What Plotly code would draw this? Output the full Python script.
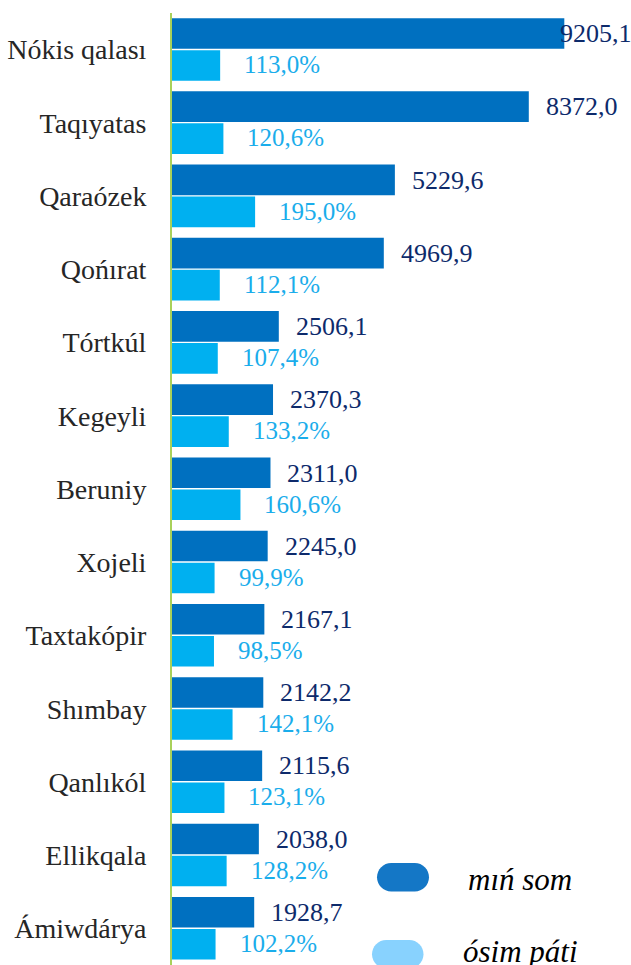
import plotly.graph_objects as go

categories = ["Nókis qalası", "Taqıyatas", "Qaraózek", "Qońırat", "Tórtkúl", "Kegeyli",
              "Beruniy", "Xojeli", "Taxtakópir", "Shımbay", "Qanlıkól", "Ellikqala", "Ámiwdárya"]
min_som = [9205.1, 8372.0, 5229.6, 4969.9, 2506.1, 2370.3, 2311.0, 2245.0, 2167.1, 2142.2, 2115.6, 2038.0, 1928.7]
osim_pati = [113.0, 120.6, 195.0, 112.1, 107.4, 133.2, 160.6, 99.9, 98.5, 142.1, 123.1, 128.2, 102.2]
series_names = ["mıń som", "ósim páti"]

W, H = 631, 965
ML, MR, MT, MB = 172, 0, 13, 0
PW, PH = W - ML - MR, H - MT - MB

DARK = "#0070C0"
LIGHT = "#00B0F0"
SERIF = "Liberation Serif, Times New Roman, serif"

def fmt(v, suffix=""):
    return f"{v:.1f}".replace(".", ",") + suffix

fig = go.Figure()
fig.add_trace(go.Bar(y=categories, x=min_som, orientation="h", name=series_names[0],
                     marker=dict(color=DARK, line=dict(width=0)),
                     width=0.418, offset=-0.43, xaxis="x", yaxis="y", showlegend=False))
fig.add_trace(go.Bar(y=categories, x=osim_pati, orientation="h", name=series_names[1],
                     marker=dict(color=LIGHT, line=dict(width=0)),
                     width=0.418, offset=0.007, xaxis="x2", yaxis="y", showlegend=False))

annotations = []
vmax = max(min_som)
for c, v in zip(categories, min_som):
    annotations.append(dict(x=v, y=c, xref="x", yref="y", text=fmt(v), showarrow=False,
                            xanchor="left", yanchor="middle", xshift=(15 if v < vmax else -6), yshift=16,
                            font=dict(family=SERIF, size=26, color="#0D2A6B")))
for c, p in zip(categories, osim_pati):
    annotations.append(dict(x=p, y=c, xref="x2", yref="y", text=fmt(p, "%"), showarrow=False,
                            xanchor="left", yanchor="middle", xshift=22, yshift=-15,
                            font=dict(family=SERIF, size=25, color="#1AADEB")))

def px_x(px):
    return (px - ML) / PW

def px_y(py):
    return (H - MB - py) / PH

def pill(x0, y0, x1, y1):
    r = (y1 - y0) / 2
    k = 0.5523 * r
    def P(x, y):
        return f"{px_x(x):.5f},{px_y(y):.5f}"
    d = f"M {P(x0 + r, y0)} L {P(x1 - r, y0)} "
    d += f"C {P(x1 - r + k, y0)} {P(x1, y0 + r - k)} {P(x1, y0 + r)} "
    d += f"C {P(x1, y0 + r + k)} {P(x1 - r + k, y1)} {P(x1 - r, y1)} "
    d += f"L {P(x0 + r, y1)} "
    d += f"C {P(x0 + r - k, y1)} {P(x0, y0 + r + k)} {P(x0, y0 + r)} "
    d += f"C {P(x0, y0 + r - k)} {P(x0 + r - k, y0)} {P(x0 + r, y0)} Z"
    return d

shapes = [
    dict(type="path", xref="paper", yref="paper", path=pill(377, 863, 429, 891.5),
         fillcolor="#1477C6", line=dict(width=0), layer="above"),
    dict(type="path", xref="paper", yref="paper", path=pill(372, 940, 423.5, 968.5),
         fillcolor="#88D2FE", line=dict(width=0), layer="above"),
]
annotations.append(dict(x=px_x(466), y=px_y(879), xref="paper", yref="paper", text="<i>" + series_names[0] + "</i>",
                        showarrow=False, xanchor="left", yanchor="middle",
                        font=dict(family=SERIF, size=31, color="#000000")))
annotations.append(dict(x=px_x(461), y=px_y(951), xref="paper", yref="paper", text="<i>" + series_names[1] + "</i>",
                        showarrow=False, xanchor="left", yanchor="middle",
                        font=dict(family=SERIF, size=31, color="#000000")))

fig.update_layout(
    width=W, height=H,
    margin=dict(l=ML, r=MR, t=MT, b=MB, pad=0),
    paper_bgcolor="white", plot_bgcolor="white",
    barmode="overlay",
    showlegend=False,
    xaxis=dict(range=[0, 10770], visible=False, fixedrange=True),
    xaxis2=dict(range=[0, 1077], overlaying="x", visible=False, fixedrange=True),
    yaxis=dict(autorange="reversed", showline=True, linecolor="#A9D15A", linewidth=2,
               ticks="outside", ticklen=18, tickcolor="rgba(0,0,0,0)", showgrid=False, zeroline=False,
               tickfont=dict(family=SERIF, size=28, color="#262626"), fixedrange=True),
    annotations=annotations,
    shapes=shapes,
)

fig.write_html("out.html", config={"displayModeBar": False},
               post_script="document.body.style.margin='0';document.body.style.padding='0';document.body.style.overflow='hidden';")
